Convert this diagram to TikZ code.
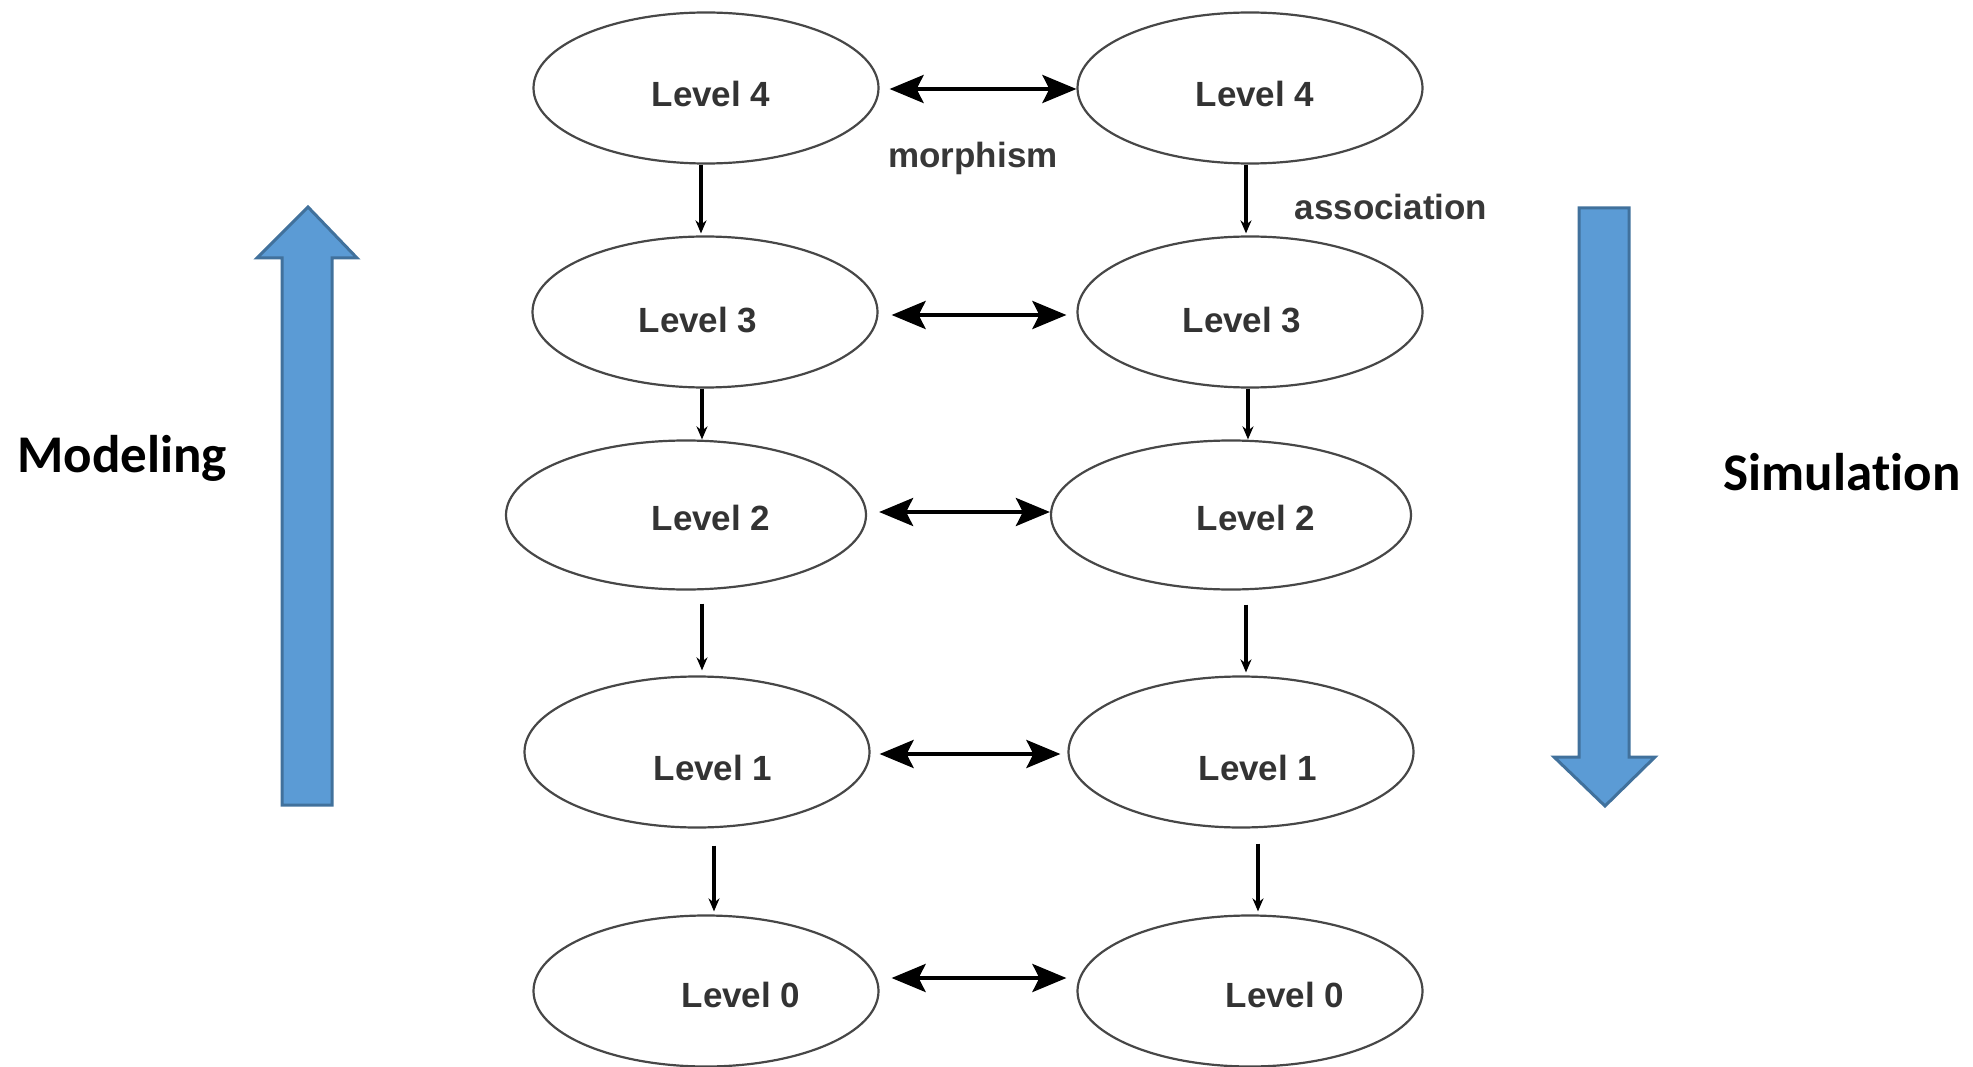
\documentclass[tikz,border=0pt]{standalone}
\usepackage{fontspec}
\setmainfont{Liberation Sans}
\newfontfamily\sidefont[Ligatures=NoCommon]{Carlito}
\usetikzlibrary{shapes.geometric,arrows.meta}
\definecolor{arrowblue}{HTML}{5B9BD5}
\definecolor{arrowedge}{HTML}{41719C}
\begin{document}
% One unit is one point; y grows downwards.
\begin{tikzpicture}[x=1pt,y=-1pt,
  lvl/.style={draw=black!72, line width=2.2pt, ellipse,
    minimum width=345pt, minimum height=151pt, inner sep=0pt},
  wide/.style={minimum width=360pt, minimum height=149pt},
  lvltxt/.style={font=\fontsize{35}{38}\selectfont\bfseries, text=black!80, inner sep=0pt},
  lbl/.style={font=\fontsize{35}{38}\selectfont\bfseries, text=black!78, inner sep=0pt},
  link/.style={line width=4pt,
    {Stealth[length=34pt,width=28pt,inset=7pt]}-{Stealth[length=34pt,width=28pt,inset=7pt]}},
  down/.style={line width=3.5pt, -{Stealth[length=13pt,width=11pt]}},
  bigarrow/.style={fill=arrowblue, draw=arrowedge, line width=3pt, line join=miter},
  side/.style={font=\sidefont\fontsize{53}{56}\selectfont\bfseries, inner sep=0pt, anchor=base}
]
\useasboundingbox (0,0) rectangle (1973,1067);

% left column
\node[lvl] (L4) at (706,88) {};
\node[lvl] (L3) at (705,312) {};
\node[lvl,wide] (L2) at (686,515) {};
\node[lvl] (L1) at (697,752) {};
\node[lvl] (L0) at (706,991) {};
% right column
\node[lvl] (R4) at (1250,88) {};
\node[lvl] (R3) at (1250,312) {};
\node[lvl,wide] (R2) at (1231,515) {};
\node[lvl] (R1) at (1241,752) {};
\node[lvl] (R0) at (1250,991) {};

% level captions
\node[lvltxt] (tL4) at (711,94) {Level 4};
\node[lvltxt] (tR4) at (1255,94) {Level 4};
\node[lvltxt] (tL3) at (698,320) {Level 3};
\node[lvltxt] (tR3) at (1242,320) {Level 3};
\node[lvltxt] (tL2) at (711,518) {Level 2};
\node[lvltxt] (tR2) at (1256,518) {Level 2};
\node[lvltxt] (tL1) at (713,768) {Level 1};
\node[lvltxt] (tR1) at (1258,768) {Level 1};
\node[lvltxt] (tL0) at (741,995) {Level 0};
\node[lvltxt] (tR0) at (1285,995) {Level 0};

% two-way links between the columns
\draw[link, shorten <=10pt] ([yshift=-1pt]L4.east) -- ([yshift=-1pt]R4.west);
\draw[link, shorten <=13pt, shorten >=10pt] ([yshift=-3pt]L3.east) -- ([yshift=-3pt]R3.west);
\draw[link, shorten <=12pt] ([yshift=3pt]L2.east) -- ([yshift=3pt]R2.west);
\draw[link, shorten <=9pt, shorten >=7pt] ([yshift=-2pt]L1.east) -- ([yshift=-2pt]R1.west);
\draw[link, shorten <=12pt, shorten >=10pt] ([yshift=13pt]L0.east) -- ([yshift=13pt]R0.west);

% downward steps, left column
\draw[down, shorten >=2pt] ([xshift=-5pt]L4.south) -- ([xshift=-5pt]L4.south |- L3.north);
\draw[down] ([xshift=-3pt]L3.south) -- ([xshift=-3pt]L3.south |- L2.north);
\draw[down, shorten <=13pt, shorten >=5pt] ([xshift=16pt]L2.south) -- ([xshift=16pt]L2.south |- L1.north);
\draw[down, shorten <=17pt, shorten >=3pt] ([xshift=17pt]L1.south) -- ([xshift=17pt]L1.south |- L0.north);
% downward steps, right column
\draw[down, shorten >=2pt] ([xshift=-4pt]R4.south) -- ([xshift=-4pt]R4.south |- R3.north);
\draw[down] ([xshift=-2pt]R3.south) -- ([xshift=-2pt]R3.south |- R2.north);
\draw[down, shorten <=14pt, shorten >=3pt] ([xshift=15pt]R2.south) -- ([xshift=15pt]R2.south |- R1.north);
\draw[down, shorten <=15pt, shorten >=3pt] ([xshift=17pt]R1.south) -- ([xshift=17pt]R1.south |- R0.north);

% link labels
\node[lbl, anchor=base] (morph) at (973,168) {morphism};
\node[lbl, anchor=base] (assoc) at (1391,220) {association};

% block arrows
\draw[bigarrow] (282,805) -- (282,258) -- (257,258) -- (308,207) -- (357,258)
  -- (332,258) -- (332,805) -- cycle;
\draw[bigarrow] (1579,208) -- (1579,757) -- (1554,757) -- (1605,806) -- (1655,757)
  -- (1629,757) -- (1629,208) -- cycle;

\node[side] (modeling) at (122,472) {Modeling};
\node[side] (simulation) at (1842,490) {Simulation};
\end{tikzpicture}
\end{document}
